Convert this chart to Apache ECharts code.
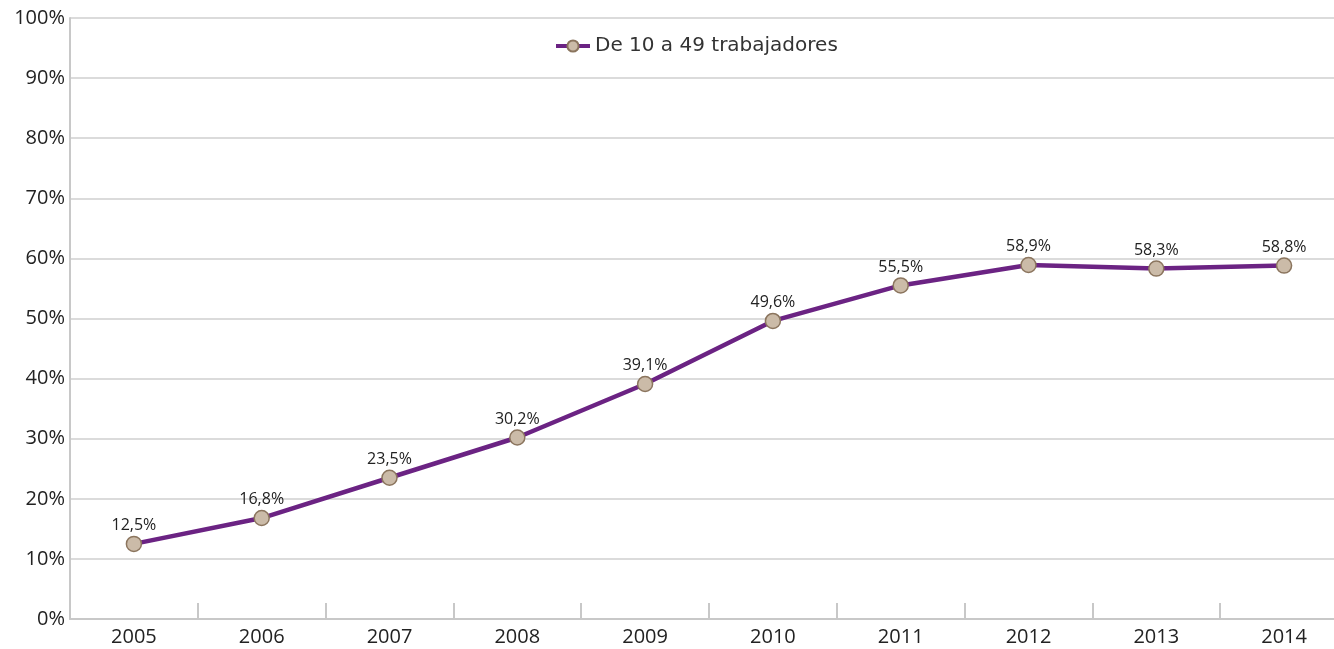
<!DOCTYPE html>
<html>
<head>
<meta charset="utf-8">
<script src="https://cdn.jsdelivr.net/npm/echarts@6/dist/echarts.min.js"></script>
<style>
  html, body { margin: 0; padding: 0; background: #fff; }
  #chart { width: 1334px; height: 649px; }
</style>
</head>
<body>
<div id="chart"></div>
<script>
var years = ['2005', '2006', '2007', '2008', '2009', '2010', '2011', '2012', '2013', '2014']
var seriesName = 'De 10 a 49 trabajadores'
var values = [12.5, 16.8, 23.5, 30.2, 39.1, 49.6, 55.5, 58.9, 58.3, 58.8]

var axisFont = 'Open Sans'

var chart = echarts.init(document.getElementById('chart'))
chart.setOption({
  animation: false,
  legend: {
    top: 31,
    left: 549,
    itemWidth: 34,
    itemHeight: 14,
    itemGap: 7,
    lineStyle: { width: 4, color: '#6b2383' },
    textStyle: { fontFamily: 'DejaVu Sans', fontSize: 20, color: '#333' },
    data: [seriesName]
  },
  grid: {
    left: 70,
    width: 1278,
    top: 18,
    bottom: 30,
    outerBoundsMode: 'none'
  },
  xAxis: {
    type: 'category',
    data: years,
    boundaryGap: true,
    axisLine: { lineStyle: { color: '#c8c8c8', width: 2 } },
    axisTick: { show: true, inside: true, length: 16, lineStyle: { color: '#c8c8c8', width: 2 } },
    axisLabel: { fontFamily: axisFont, fontSize: 20, color: '#222', margin: 8 }
  },
  yAxis: {
    type: 'value',
    min: 0,
    max: 100,
    interval: 10,
    axisLine: { show: true, lineStyle: { color: '#c8c8c8', width: 2 } },
    axisTick: { show: false },
    axisLabel: { fontFamily: axisFont, fontSize: 20, color: '#222', margin: 5, formatter: '{value}%' },
    splitLine: { lineStyle: { color: '#cfcfcf', width: 1.5 } }
  },
  series: [{
    name: seriesName,
    type: 'line',
    data: values,
    symbol: 'circle',
    symbolSize: 15,
    lineStyle: { color: '#6b2383', width: 4.5 },
    itemStyle: { color: '#cbbba8', borderColor: '#8b755e', borderWidth: 1.5 },
    label: {
      show: true,
      position: 'top',
      distance: 2,
      fontFamily: axisFont,
      fontSize: 16,
      color: '#222',
      formatter: function (p) { return p.value.toFixed(1).replace('.', ',') + '%' }
    }
  }]
})
</script>
</body>
</html>
